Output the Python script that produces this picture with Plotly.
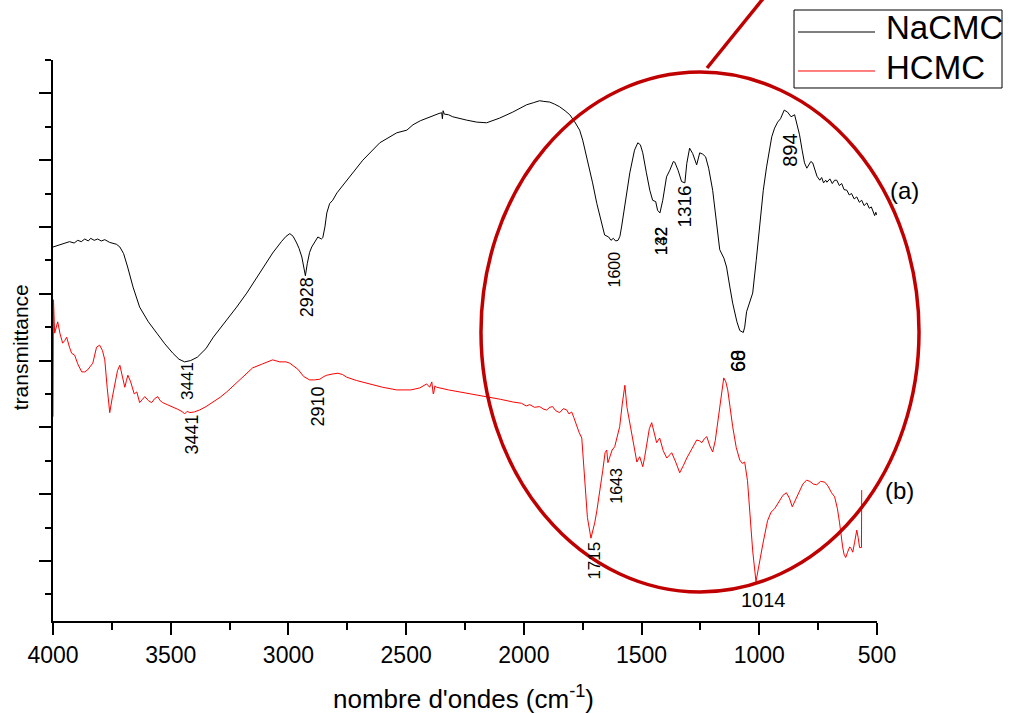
import plotly.graph_objects as go

# FTIR spectra: wavenumber (cm-1) and transmittance (arbitrary units, curves offset)
nacmc_wn = [4000, 3960, 3930, 3910, 3895, 3880, 3865, 3850, 3840, 3825, 3810, 3795, 3780, 3760,
            3745, 3730, 3716, 3700, 3683, 3660, 3632, 3595, 3559, 3525, 3491, 3465, 3441, 3415,
            3387, 3350, 3319, 3290, 3262, 3220, 3177, 3120, 3067, 3030, 3010, 2994, 2980, 2965,
            2955, 2943, 2935, 2928, 2920, 2910, 2901, 2885, 2875, 2860, 2854, 2845, 2837, 2825,
            2812, 2794, 2752, 2684, 2612, 2540, 2497, 2471, 2440, 2400, 2360, 2349, 2346, 2343,
            2338, 2320, 2302, 2243, 2200, 2158, 2103, 2047, 1988, 1960, 1933, 1915, 1890, 1870,
            1848, 1825, 1805, 1785, 1763, 1750, 1742, 1725, 1708, 1690, 1670, 1657, 1640, 1630,
            1620, 1610, 1600, 1592, 1585, 1570, 1550, 1530, 1516, 1505, 1495, 1480, 1465, 1453,
            1440, 1432, 1422, 1410, 1394, 1380, 1365, 1359, 1345, 1330, 1316, 1308, 1296, 1283,
            1266, 1253, 1240, 1228, 1215, 1198, 1183, 1168, 1150, 1139, 1125, 1113, 1095, 1083,
            1068, 1062, 1054, 1040, 1028, 1013, 998, 983, 969, 955, 947, 935, 922, 910, 894, 880,
            865, 850, 840, 829, 818, 808, 798, 790, 781, 773, 765, 755, 743, 735, 727, 718, 713,
            700, 690, 680, 671, 660, 650, 640, 628, 618, 608, 597, 586, 575, 565, 555, 543, 533,
            524, 518, 510, 505, 501]
nacmc_t = [57.0, 57.4, 57.8, 57.6, 58.0, 57.8, 58.2, 57.9, 58.3, 58.0, 58.2, 57.9, 58.1, 57.7,
           57.5, 57.4, 57.0, 56.0, 54.0, 51.0, 48.0, 45.8, 44.1, 42.5, 41.1, 40.2, 39.8, 40.0,
           40.5, 41.8, 43.5, 44.8, 46.1, 48.0, 50.1, 53.3, 56.1, 57.8, 58.6, 59.0, 58.6, 57.6,
           56.8, 55.5, 54.0, 52.7, 54.5, 56.2, 57.0, 58.0, 58.5, 58.2, 58.4, 60.0, 62.1, 63.5,
           64.0, 65.1, 67.0, 70.0, 72.6, 74.1, 74.5, 75.3, 75.9, 76.5, 77.0, 77.1, 76.2, 77.4,
           76.9, 76.8, 76.5, 76.0, 75.7, 75.6, 76.3, 77.2, 78.3, 78.6, 78.9, 78.8, 78.7, 78.4,
           78.0, 77.4, 76.8, 75.8, 74.5, 73.0, 71.8, 69.0, 66.6, 63.5, 60.5, 58.8, 58.5, 58.0,
           58.3, 57.9, 58.0, 58.6, 60.0, 63.5, 68.1, 71.5, 72.6, 72.3, 71.1, 68.2, 65.5, 64.0,
           63.8, 62.5, 62.1, 64.0, 67.5, 68.5, 69.8, 69.7, 68.5, 66.8, 66.6, 69.5, 71.8, 71.0,
           69.3, 71.1, 70.9, 70.5, 68.8, 65.5, 61.0, 56.6, 55.3, 54.0, 51.0, 48.6, 45.8, 44.5,
           44.2, 45.0, 47.3, 48.8, 50.1, 55.0, 60.6, 65.5, 69.0, 72.0, 73.5, 74.8, 75.7, 76.2,
           77.5, 77.2, 76.5, 76.8, 75.3, 73.8, 71.5, 69.6, 68.8, 69.2, 69.8, 69.6, 68.8, 67.6,
           67.0, 67.4, 66.6, 67.0, 66.7, 67.2, 66.5, 67.0, 67.0, 66.2, 66.5, 65.6, 65.5, 64.8,
           65.0, 64.2, 64.5, 63.7, 64.0, 63.2, 63.6, 62.8, 63.0, 62.5, 61.7, 62.2, 61.8]

hcmc_wn = [4000, 3998, 3993, 3985, 3980, 3970, 3959, 3950, 3942, 3930, 3921, 3908, 3895, 3878,
           3865, 3853, 3840, 3831, 3815, 3802, 3790, 3780, 3770, 3759, 3748, 3738, 3726, 3716,
           3705, 3695, 3688, 3682, 3670, 3655, 3644, 3632, 3620, 3610, 3595, 3581, 3568, 3555,
           3545, 3534, 3515, 3492, 3470, 3449, 3441, 3430, 3419, 3400, 3377, 3350, 3322, 3290,
           3262, 3235, 3207, 3180, 3152, 3110, 3067, 3037, 3010, 2994, 2960, 2935, 2922, 2910,
           2890, 2867, 2850, 2837, 2810, 2790, 2770, 2752, 2710, 2667, 2600, 2540, 2480, 2442,
           2425, 2413, 2400, 2391, 2385, 2383, 2378, 2370, 2320, 2272, 2220, 2158, 2100, 2047,
           2010, 1990, 1975, 1955, 1933, 1915, 1903, 1890, 1878, 1865, 1848, 1832, 1818, 1808,
           1797, 1788, 1776, 1765, 1754, 1742, 1730, 1715, 1705, 1699, 1690, 1678, 1665, 1655,
           1648, 1643, 1635, 1625, 1614, 1603, 1593, 1582, 1571, 1562, 1550, 1535, 1520, 1508,
           1495, 1487, 1478, 1467, 1457, 1446, 1436, 1423, 1408, 1393, 1382, 1372, 1355, 1338,
           1322, 1308, 1286, 1266, 1255, 1244, 1233, 1223, 1210, 1198, 1187, 1176, 1163, 1151,
           1142, 1134, 1124, 1113, 1098, 1083, 1072, 1062, 1050, 1040, 1028, 1014, 1000, 985,
           965, 950, 935, 915, 900, 885, 872, 860, 845, 829, 815, 799, 785, 770, 756, 740, 722,
           708, 693, 680, 668, 659, 652, 646, 640, 633, 625, 616, 609, 603, 595, 586, 580, 574,
           566, 565]
hcmc_t = [31.6, 49.1, 44.1, 45.0, 45.8, 44.0, 42.6, 43.0, 43.5, 42.0, 41.1, 40.8, 39.5, 38.3,
          38.3, 38.6, 39.1, 39.6, 42.0, 42.3, 41.5, 40.1, 36.0, 32.2, 34.5, 36.6, 38.5, 39.3,
          37.5, 36.0, 37.0, 37.8, 36.8, 35.0, 35.3, 33.7, 34.2, 34.6, 34.0, 33.7, 34.3, 34.6,
          34.0, 33.7, 33.4, 33.1, 32.7, 32.3, 32.0, 32.4, 32.2, 32.3, 32.6, 33.1, 33.7, 34.5,
          35.3, 36.2, 37.1, 38.0, 38.9, 39.5, 40.1, 39.8, 39.8, 39.6, 38.7, 37.6, 37.4, 37.1,
          37.1, 37.2, 37.6, 37.8, 38.0, 38.1, 37.9, 37.5, 37.0, 36.6, 36.0, 35.6, 35.6, 35.9,
          36.3, 36.5, 36.0, 36.8, 35.0, 35.1, 36.2, 36.0, 35.6, 35.3, 35.0, 34.6, 34.2, 33.8,
          33.6, 33.2, 33.4, 33.0, 33.1, 32.7, 32.6, 33.0, 33.1, 32.5, 32.2, 32.8, 32.6, 32.0,
          32.3, 31.5, 30.1, 29.2, 28.4, 22.6, 16.5, 13.4, 14.6, 15.7, 17.5, 20.2, 23.5, 26.2,
          26.6, 24.7, 25.5, 26.6, 27.1, 28.8, 30.1, 33.5, 36.3, 33.0, 30.7, 27.5, 24.8, 25.6,
          24.1, 25.5, 27.7, 29.8, 30.7, 29.0, 27.7, 28.4, 26.5, 25.4, 25.8, 26.2, 24.8, 23.2,
          24.3, 25.4, 26.8, 28.1, 28.0, 27.7, 28.3, 28.6, 27.2, 26.3, 28.0, 30.7, 34.5, 37.4,
          36.8, 35.6, 33.0, 30.1, 27.0, 25.1, 24.6, 24.8, 22.0, 17.5, 11.5, 6.9, 9.8, 12.5,
          16.0, 17.3, 17.8, 19.0, 19.8, 20.2, 19.4, 18.1, 19.3, 20.6, 21.5, 22.1, 21.9, 21.5,
          21.4, 21.9, 21.8, 21.2, 20.2, 19.6, 17.8, 15.7, 13.5, 12.1, 11.0, 10.5, 11.3, 12.1,
          11.8, 11.3, 12.8, 14.6, 13.5, 12.0, 12.0, 20.6]

# band assignments written beside the curves (text, wavenumber, transmittance)
bands_a_text = ["3441", "2928", "1600", "132", "142", "1316", "60", "68", "894"]
bands_a_wn = [3428, 2923, 1614, 1415, 1415, 1317, 1091, 1091, 871]
bands_a_t = [36.9, 49.4, 53.6, 57.8, 57.8, 63.0, 39.9, 39.9, 71.5]

bands_b_text = ["3441", "2910", "1715", "1643"]
bands_b_wn = [3410, 2875, 1699, 1610]
bands_b_t = [28.9, 33.1, 10.0, 21.2]

band_1014_text = "1014"
band_1014_wn = 981
band_1014_t = 4.2

FONT = "Liberation Sans, Arial, sans-serif"
RING = "#c00000"
# font size of each rotated band label, in the order the labels are drawn
LABEL_SIZES = [17, 18, 16, 17, 17, 19, 20, 20, 20, 18, 18, 17, 16]

fig = go.Figure()
fig.add_trace(go.Scatter(x=nacmc_wn, y=nacmc_t, mode="lines", name="NaCMC",
                         line=dict(color="black", width=1), showlegend=False))
fig.add_trace(go.Scatter(x=hcmc_wn, y=hcmc_t, mode="lines", name="HCMC",
                         line=dict(color="red", width=1), showlegend=False))

annotations = []
for txt, xw, yt, fs in zip(bands_a_text + bands_b_text, bands_a_wn + bands_b_wn,
                           bands_a_t + bands_b_t, LABEL_SIZES):
    annotations.append(dict(x=xw, y=yt, xref="x", yref="y", text=txt, showarrow=False,
                            textangle=-90, xanchor="center", yanchor="middle",
                            font=dict(family=FONT, size=fs, color="black")))
annotations.append(dict(x=band_1014_wn, y=band_1014_t, xref="x", yref="y", text=band_1014_text,
                        showarrow=False, xanchor="center", yanchor="middle",
                        font=dict(family=FONT, size=20, color="black")))

# curve tags
annotations.append(dict(x=1.0336, y=0.768, xref="paper", yref="paper", text="(a)", showarrow=False,
                        xanchor="center", yanchor="middle", font=dict(family=FONT, size=24, color="black")))
annotations.append(dict(x=1.0276, y=0.2335, xref="paper", yref="paper", text="(b)", showarrow=False,
                        xanchor="center", yanchor="middle", font=dict(family=FONT, size=24, color="black")))

# axis titles
annotations.append(dict(x=0.4976, y=-0.1355, xref="paper", yref="paper",
                        text="nombre d'ondes (cm<sup>-1</sup>)", showarrow=False,
                        xanchor="center", yanchor="middle", font=dict(family=FONT, size=26, color="black")))
annotations.append(dict(x=-0.04, y=0.488, xref="paper", yref="paper", text="transmittance",
                        showarrow=False, textangle=-90, xanchor="center", yanchor="middle",
                        font=dict(family=FONT, size=21, color="black")))

# legend box drawn by hand
annotations.append(dict(x=1.0085, y=1.0579, xref="paper", yref="paper", text="NaCMC", showarrow=False,
                        xanchor="left", yanchor="middle", font=dict(family=FONT, size=33, color="black")))
annotations.append(dict(x=1.0085, y=0.9875, xref="paper", yref="paper", text="HCMC", showarrow=False,
                        xanchor="left", yanchor="middle", font=dict(family=FONT, size=33, color="black")))

shapes = [
    dict(type="rect", xref="paper", yref="paper", x0=0.8993, x1=1.1517, y0=0.9501, y1=1.0891,
         line=dict(color="black", width=1), fillcolor="white", layer="above"),
    dict(type="line", xref="paper", yref="paper", x0=0.9041, x1=0.9976, y0=1.0499, y1=1.0499,
         line=dict(color="black", width=1)),
    dict(type="line", xref="paper", yref="paper", x0=0.9041, x1=0.9976, y0=0.9804, y1=0.9804,
         line=dict(color="red", width=1)),
    # highlighted fingerprint region
    dict(type="circle", xref="paper", yref="paper", x0=0.5194, x1=1.0510, y0=0.0517, y1=0.9786,
         line=dict(color=RING, width=3.5), layer="above"),
    dict(type="line", xref="paper", yref="paper", x0=0.7937, y0=0.9857, x1=0.8722, y1=1.1283,
         line=dict(color=RING, width=3.5), layer="above"),
]

fig.update_layout(
    width=1012, height=713,
    margin=dict(l=53, r=135, t=60, b=92),
    paper_bgcolor="white", plot_bgcolor="white",
    showlegend=False,
    annotations=annotations,
    shapes=shapes,
    xaxis=dict(range=[4000, 500], showgrid=False, zeroline=False, showline=True,
               linecolor="black", linewidth=2, ticks="outside", ticklen=12, tickwidth=2,
               tickcolor="black", tick0=500, dtick=500,
               tickfont=dict(family=FONT, size=23, color="black"),
               minor=dict(ticks="outside", ticklen=7, tickwidth=2, tickcolor="black", dtick=250)),
    yaxis=dict(range=[1, 85], showgrid=False, zeroline=False, showline=True,
               linecolor="black", linewidth=2, ticks="outside", ticklen=12, tickwidth=2,
               tickcolor="black", tick0=0, dtick=10, showticklabels=False,
               minor=dict(ticks="outside", ticklen=6, tickwidth=2, tickcolor="black", dtick=5)),
)

fig.write_html("out.html")
